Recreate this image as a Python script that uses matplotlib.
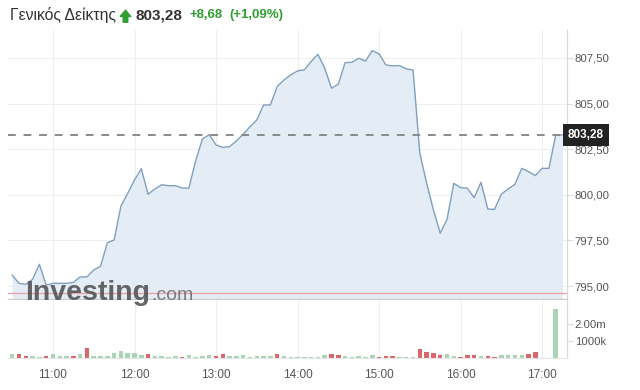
import numpy as np
import pandas as pd
import matplotlib
matplotlib.use("Agg")
import matplotlib.pyplot as plt
import matplotlib.dates as mdates
from matplotlib.ticker import FuncFormatter, FixedLocator
from matplotlib.path import Path
from matplotlib.lines import Line2D

# 5-minute points, 10:30 .. 17:15
times = pd.date_range("2023-01-02 10:30", periods=82, freq="5min")
price = [795.60, 795.15, 795.09, 795.37, 796.19, 795.05, 795.15, 795.15, 795.15, 795.20,
         795.50, 795.50, 795.88, 796.08, 797.37, 797.52, 799.38, 800.08, 800.81, 801.43,
         800.03, 800.32, 800.55, 800.50, 800.50, 800.37, 800.36, 801.85, 803.06, 803.29,
         802.73, 802.60, 802.64, 802.95, 803.32, 803.73, 804.10, 804.92, 804.92, 805.93,
         806.29, 806.57, 806.79, 806.85, 807.30, 807.70, 806.93, 805.84, 806.06, 807.24,
         807.26, 807.48, 807.33, 807.90, 807.72, 807.12, 807.06, 807.08, 806.90, 806.84,
         802.27, 800.63, 799.17, 797.90, 798.65, 800.63, 800.39, 800.36, 799.84, 800.68,
         799.22, 799.20, 800.04, 800.32, 800.57, 801.45, 801.27, 801.05, 801.45, 801.45,
         803.28, 803.28]
volume_m = [0.24, 0.25, 0.12, 0.10, 0.05, 0.12, 0.24, 0.12, 0.12, 0.12,
            0.22, 0.59, 0.12, 0.12, 0.14, 0.27, 0.39, 0.29, 0.29, 0.18,
            0.25, 0.12, 0.12, 0.05, 0.10, 0.05, 0.20, 0.04, 0.12, 0.18,
            0.12, 0.24, 0.12, 0.12, 0.18, 0.04, 0.12, 0.12, 0.12, 0.24,
            0.12, 0.04, 0.03, 0.03, 0.04, 0.08, 0.20, 0.25, 0.17, 0.12,
            0.04, 0.12, 0.04, 0.17, 0.05, 0.10, 0.14, 0.08, 0.08, 0.03,
            0.55, 0.38, 0.32, 0.20, 0.24, 0.10, 0.08, 0.20, 0.20, 0.10,
            0.10, 0.08, 0.17, 0.15, 0.17, 0.20, 0.22, 0.38, 0.0, 0.0,
            2.88, 0.0]
vol_dir = ("grrggrgggr" "grgggggggg" "rggggrgggg" "rrgggggggr" "gggggggrrg"
           "ggggrrrggg" "rrrrggrrrg" "rrggggrrgg" "gg")

last_price = 803.28
prev_close = 794.60
change = "+8,68"
change_pct = "(+1,09%)"
title = "Γενικός Δείκτης"
price_ticks = [795.0, 797.5, 800.0, 802.5, 805.0, 807.5]
vol_ticks = [1.0, 2.0]
vol_tick_labels = ["1000k", "2.00m"]
hour_ticks = pd.date_range("2023-01-02 11:00", periods=7, freq="1h")

plt.rcParams['font.family'] = ['Liberation Sans', 'DejaVu Sans']

fig = plt.figure(figsize=(6.4, 3.9), dpi=100)
W, H = 640, 390
ax = fig.add_axes([8 / W, 1 - 299 / H, (567 - 8) / W, (299 - 30) / H])
axv = fig.add_axes([8 / W, 1 - 358 / H, (567 - 8) / W, (358 - 300) / H], sharex=ax)

line_col = "#7f9fbf"
fill_col = "#e4edf6"
grid_col = "#eeeeee"
txt_col = "#555555"
green = "#2e9e2e"

y0, y1 = 794.29, 809.03
ax.fill_between(times, price, y0, color=fill_col, lw=0)
ax.plot(times, price, color=line_col, lw=1)
ax.axhline(prev_close, color="#e8a3a6", lw=1)
ax.axhline(last_price, color="#8a8a8a", lw=1.4, dashes=(4, 4))
ax.set_ylim(y0, y1)
x_left = times[0] - pd.Timedelta(minutes=3.1)
x_right = times[-1] + pd.Timedelta(minutes=3.3)
ax.set_xlim(x_left, x_right)

ax.yaxis.tick_right()
ax.yaxis.set_major_locator(FixedLocator(price_ticks))
ax.yaxis.set_major_formatter(FuncFormatter(lambda v, p: f"{v:.2f}".replace(".", ",")))
ax.tick_params(axis="y", length=4, color="#dddddd", labelsize=8.2, labelcolor=txt_col, pad=1.5)
ax.tick_params(axis="x", bottom=False, labelbottom=False)
ax.xaxis.set_major_locator(FixedLocator(mdates.date2num(hour_ticks)))
ax.grid(True, color=grid_col, lw=0.8)
ax.set_axisbelow(True)
for s in ["top", "left"]:
    ax.spines[s].set_visible(False)
ax.spines["right"].set_color("#d9d9d9")
ax.spines["bottom"].set_color("#cccccc")
ax.spines["bottom"].set_linewidth(1.0)

ax.text(1.002, (last_price - y0) / (y1 - y0), f"{last_price:.2f}".replace(".", ","),
        transform=ax.transAxes, ha="left", va="center", fontsize=8.5, color="white",
        fontweight="bold", bbox=dict(boxstyle="square,pad=0.42", fc="#222222", ec="none"))

colors = ["#a9d5b7" if d == "g" else "#d9666b" for d in vol_dir]
axv.bar(times, volume_m, width=pd.Timedelta(minutes=3.3), color=colors)
axv.set_ylim(0, 3.41)
axv.yaxis.tick_right()
axv.set_yticks(vol_ticks)
axv.set_yticklabels(vol_tick_labels)
axv.tick_params(axis="y", length=4, color="#dddddd", labelsize=8.2, labelcolor=txt_col, pad=1.5)
axv.xaxis.set_major_locator(FixedLocator(mdates.date2num(hour_ticks)))
axv.xaxis.set_major_formatter(mdates.DateFormatter("%H:%M"))
axv.tick_params(axis="x", length=0, labelsize=8.5, labelcolor=txt_col, pad=8)
axv.grid(True, axis="x", color=grid_col, lw=0.8)
axv.set_axisbelow(True)
for s in ["top", "left"]:
    axv.spines[s].set_visible(False)
axv.spines["right"].set_color("#d9d9d9")
axv.spines["bottom"].set_color("#e6e6e6")

fig.canvas.draw()
r = fig.canvas.get_renderer()

# watermark
wm_y = 1 - 300 / H
wm = fig.text(25 / W, wm_y, "Investing", fontsize=20.5, fontweight="bold",
              color="#555555", alpha=0.9, ha="left", va="baseline")
wx = (25 + wm.get_window_extent(r).width + 1) / W
fig.text(wx, wm_y, ".com", fontsize=14, color="#6a6a6a", alpha=0.85, ha="left", va="baseline")

# header
ty = 1 - 15 / H
x = 10 / W
t = fig.text(x, ty, title, ha="left", va="center", fontsize=11.3, color="#333333")
x += (t.get_window_extent(r).width + 5) / W

# green up arrow icon
arrow = Path([(-0.5, 0.0), (0.0, 0.6), (0.5, 0.0), (0.22, 0.0), (0.22, -0.55),
              (-0.22, -0.55), (-0.22, 0.0), (-0.5, 0.0)])
fig.add_artist(Line2D([x + 4 / W], [ty - 1 / H], transform=fig.transFigure, marker=arrow,
                      markersize=9, color=green, mec=green, lw=0))
x += 15 / W

parts = [(f"{last_price:.2f}".replace(".", ","), dict(fontsize=11, fontweight="bold", color="#333333"), 7),
         (change, dict(fontsize=9.5, fontweight="bold", color=green), 6),
         (change_pct, dict(fontsize=9.5, fontweight="bold", color=green), 0)]
for s, kw, gap in parts:
    t = fig.text(x, ty, s, ha="left", va="center", **kw)
    x += (t.get_window_extent(r).width + gap) / W

fig.savefig("out.png", dpi=100, facecolor="white")
